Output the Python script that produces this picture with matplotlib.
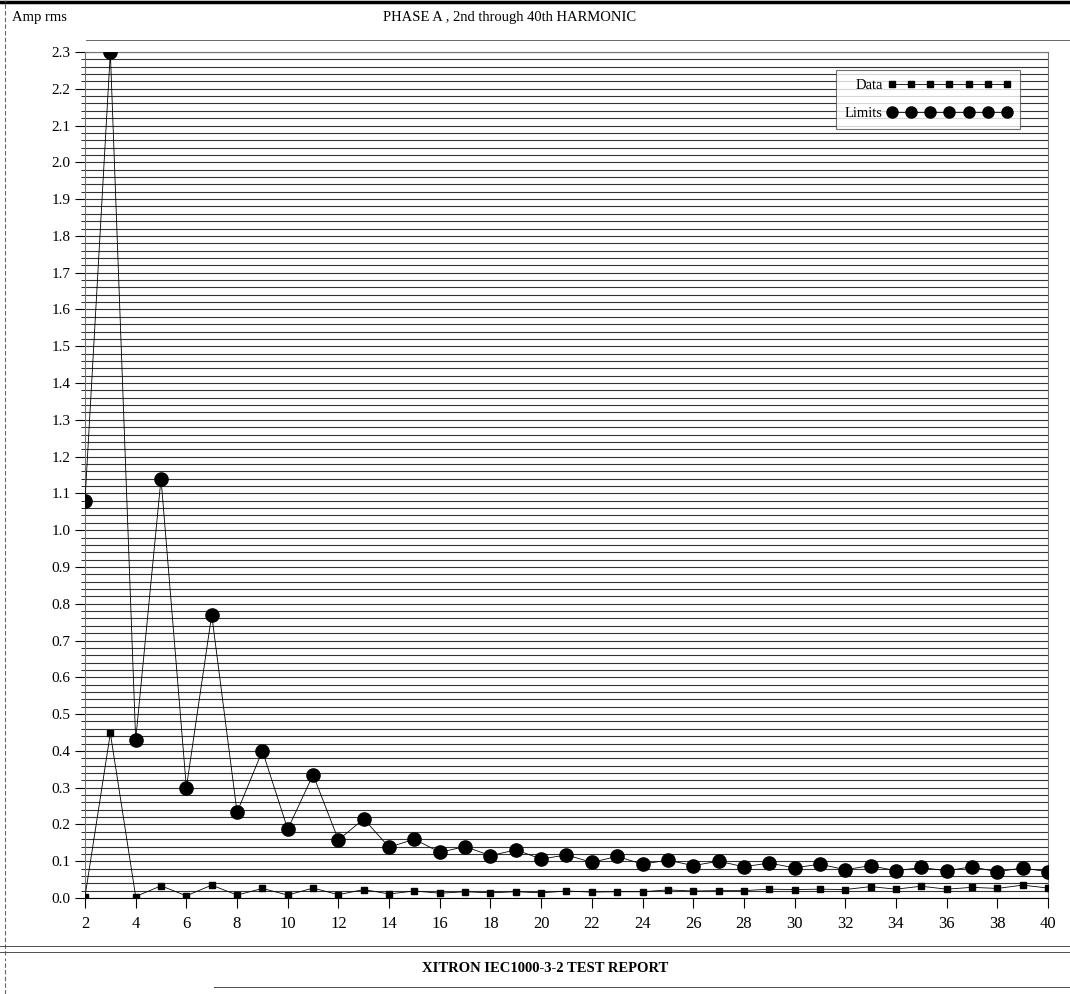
import numpy as np
import matplotlib
matplotlib.use("Agg")
import matplotlib.pyplot as plt
from matplotlib.lines import Line2D

plt.rcParams['font.family'] = ['Liberation Serif', 'DejaVu Serif']

# harmonic numbers 2..40
harmonics = list(range(2, 41))

data_amps = [0.004, 0.448, 0.004, 0.033, 0.006, 0.035, 0.008, 0.026, 0.008, 0.027,
             0.009, 0.023, 0.011, 0.019, 0.013, 0.017, 0.014, 0.017, 0.014, 0.019,
             0.016, 0.017, 0.017, 0.022, 0.019, 0.020, 0.020, 0.024, 0.023, 0.024,
             0.023, 0.031, 0.024, 0.032, 0.024, 0.029, 0.026, 0.035, 0.027]

# limit values (Amp rms)
limit_amps = [1.08, 2.30, 0.43, 1.14, 0.30, 0.77, 0.233, 0.40, 0.187, 0.335,
              0.158, 0.215, 0.138, 0.160, 0.124, 0.140, 0.115, 0.131, 0.106, 0.117,
              0.097, 0.113, 0.092, 0.103, 0.088, 0.100, 0.085, 0.095, 0.082, 0.092,
              0.077, 0.088, 0.074, 0.083, 0.074, 0.085, 0.071, 0.082, 0.071]

x_ticks = list(range(2, 41, 2))
y_ticks = [round(v * 0.1, 1) for v in range(0, 24)]
grid_levels = np.arange(0, 2.301, 0.02)

fig = plt.figure(figsize=(10.7, 9.94), dpi=100)
ax = fig.add_axes([85 / 1070, 1 - 898 / 994, 963 / 1070, 846 / 994])

# dense horizontal ruling
for g in grid_levels:
    ax.axhline(g, color='0.2', lw=0.8, zorder=1)

ax.plot(harmonics, limit_amps, color='black', lw=0.6, marker='o',
        markersize=9.5, zorder=3, label='Limits')
ax.plot(harmonics, data_amps, color='black', lw=0.6, marker='s',
        markersize=4.5, zorder=3, label='Data')

ax.set_xlim(2, 40)
ax.set_ylim(0, 2.3)
ax.set_xticks(x_ticks)
ax.set_yticks(y_ticks)
ax.set_yticklabels([f'{v:.1f}' for v in y_ticks])
ax.set_yticks(grid_levels, minor=True)
ax.tick_params(axis='both', direction='out', labelsize=11, length=7, width=0.8)
ax.tick_params(axis='x', labelsize=12, pad=6)
ax.tick_params(axis='y', which='minor', length=3, width=0.6)
for side in ['top', 'right', 'left']:
    ax.spines[side].set_color('0.45')
    ax.spines[side].set_linewidth(0.8)
ax.spines['bottom'].set_color('black')

# legend with labels on the left and a strip of markers on the right
handles = [Line2D([0], [0], color='black', lw=0.6, marker='s', markersize=4.5),
           Line2D([0], [0], color='black', lw=0.6, marker='o', markersize=8)]
leg = ax.legend(handles, ['Data', 'Limits'], loc='upper right',
                bbox_to_anchor=(0.974, 0.982), markerfirst=False, numpoints=7,
                handlelength=8.5, fontsize=10.5, frameon=True, fancybox=False,
                borderpad=0.6, labelspacing=1.0, handletextpad=0.3,
                borderaxespad=0.2)
leg.get_frame().set_edgecolor('0.3')
leg.get_frame().set_linewidth(0.8)

fig.text(12 / 1070, 1 - 18 / 994, 'Amp rms', fontsize=10.5, va='center', ha='left')
fig.text(510 / 1070, 1 - 18 / 994, 'PHASE A , 2nd through 40th HARMONIC',
         fontsize=10.5, va='center', ha='center')
fig.text(545 / 1070, 1 - 968 / 994, 'XITRON IEC1000-3-2 TEST REPORT',
         fontsize=10.5, fontweight='bold', va='center', ha='center')

# page ruling around the chart and footer
fig.add_artist(Line2D([0, 1], [1 - 2 / 994] * 2, color='black', lw=2.5))
fig.add_artist(Line2D([0.08, 1], [1 - 40 / 994] * 2, color='0.3', lw=0.6))
fig.add_artist(Line2D([5 / 1070] * 2, [1 - 955 / 994, 1], color='0.4', lw=0.8, ls=(0, (4, 2))))
fig.add_artist(Line2D([0, 1], [1 - 946 / 994] * 2, color='0.3', lw=0.7))
fig.add_artist(Line2D([0, 1], [1 - 952 / 994] * 2, color='0.3', lw=0.7))
fig.add_artist(Line2D([0.2, 1], [1 - 987 / 994] * 2, color='0.3', lw=0.7))
fig.add_artist(Line2D([5 / 1070] * 2, [0, 1 - 958 / 994], color='0.4', lw=0.8, ls=(0, (4, 2))))

fig.savefig('out.png', dpi=100)
